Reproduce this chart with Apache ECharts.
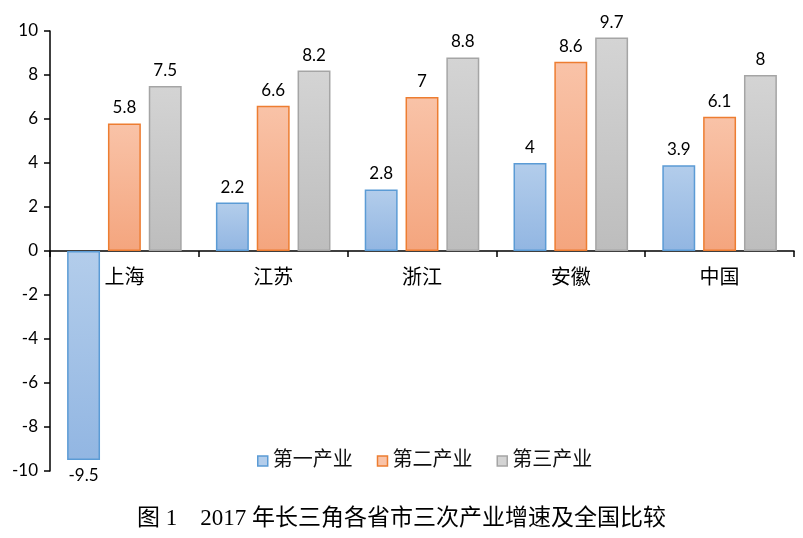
<!DOCTYPE html>
<html><head><meta charset="utf-8">
<script src="https://cdn.jsdelivr.net/npm/echarts@6/dist/echarts.min.js"></script>
<style>html,body{margin:0;padding:0;background:#fff}#c{width:803px;height:538px}</style>
</head><body><div id="c"></div>
<script>
var categories = ['上海','江苏','浙江','安徽','中国'];
var seriesNames = ['第一产业','第二产业','第三产业'];
var primary = [-9.5, 2.2, 2.8, 4, 3.9];
var secondary = [5.8, 6.6, 7, 8.6, 6.1];
var tertiary = [7.5, 8.2, 8.8, 9.7, 8];
var titleText = '图 1　2017 年长三角各省市三次产业增速及全国比较';

var styles = [
  {top:'#b3cdeb', bottom:'#92b6e2', border:'#5b9bd5'},
  {top:'#f9c3a8', bottom:'#f4a57e', border:'#ed7d31'},
  {top:'#d4d4d4', bottom:'#bdbdbd', border:'#a5a5a5'}
];
var datasets = [primary, secondary, tertiary];
var numFont = 'Lato, "Liberation Sans", sans-serif';
var cjkFont = '"Liberation Serif", "Noto Sans CJK SC", serif';

var series = datasets.map(function(d, i){
  return {
    name: seriesNames[i], type:'bar', barGap:'24%', barCategoryGap:'23%',
    data: d.map(function(v){
      return {value:v, label:{position: v < 0 ? 'bottom' : 'top'}};
    }),
    itemStyle:{
      color:{type:'linear',x:0,y:0,x2:0,y2:1,colorStops:[{offset:0,color:styles[i].top},{offset:1,color:styles[i].bottom}]},
      borderColor:styles[i].border, borderWidth:1.5
    },
    label:{show:true, distance:7, color:'#000', fontSize:17, fontFamily:numFont}
  };
});

var chart = echarts.init(document.getElementById('c'));
chart.setOption({
  animation:false,
  backgroundColor:'#fff',
  title:{text:titleText, left:'center', top:502, textStyle:{fontSize:23, fontWeight:'normal', color:'#000', fontFamily:cjkFont}},
  legend:{
    data: seriesNames.map(function(n,i){return {name:n, itemStyle:{color:styles[i].top, borderColor:styles[i].border, borderWidth:1.5}};}),
    left:252, top:446, itemWidth:10, itemHeight:10, itemGap:24, icon:'rect',
    textStyle:{fontSize:20, color:'#111', fontFamily:cjkFont}
  },
  grid:{left:50, right:9, top:31, bottom:67},
  xAxis:{
    type:'category', data:categories, position:'bottom', offset:-220,
    axisLine:{onZero:false, lineStyle:{color:'#000', width:1.5}},
    axisTick:{show:true, length:6, inside:false, lineStyle:{color:'#000', width:1.5}},
    axisLabel:{margin:18, fontSize:20, color:'#000', fontFamily:cjkFont}
  },
  yAxis:{
    type:'value', min:-10, max:10, interval:2,
    axisLine:{show:true, lineStyle:{color:'#000', width:1.5}},
    axisTick:{show:true, length:6, lineStyle:{color:'#000', width:1.5}},
    splitLine:{show:false},
    axisLabel:{fontSize:17, color:'#000', margin:12, fontFamily:numFont}
  },
  series: series
});
</script></body></html>
